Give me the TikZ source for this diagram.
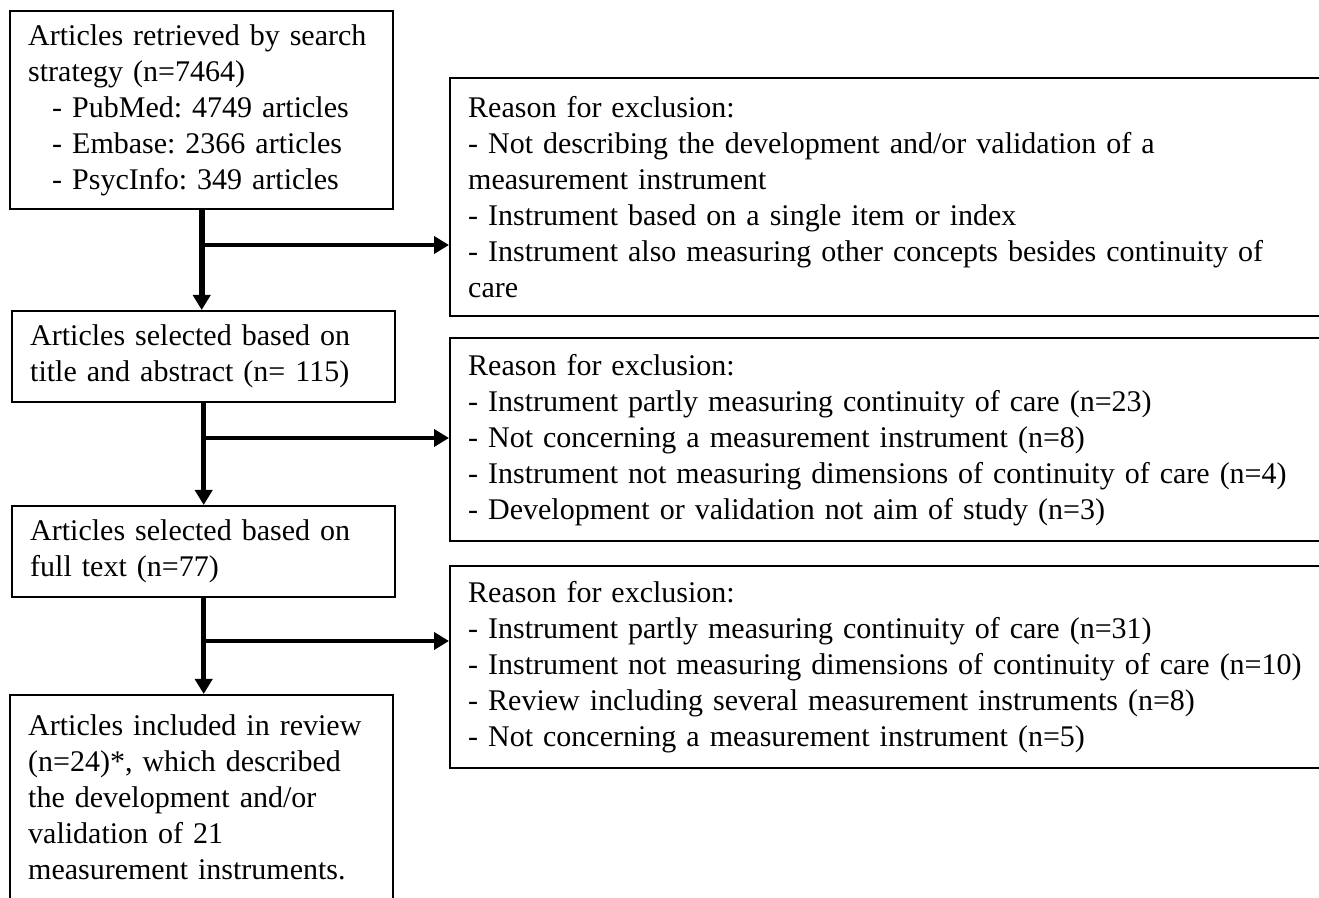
\documentclass[tikz,border=0pt]{standalone}
\usepackage{fontspec}
\setmainfont{Liberation Serif}
\usetikzlibrary{arrows.meta}
\frenchspacing

\tikzset{
  stagebox/.style={draw, line width=1.2pt, anchor=north west, align=left,
    inner xsep=9pt, inner ysep=0pt, text width=173.5pt,
    font=\fontsize{15}{18}\selectfont},
  reasonbox/.style={stagebox, inner xsep=9pt, text width=445pt},
  flow/.style={line width=2.5pt, -{Triangle[length=7.5pt,width=8.5pt]}},
  branch/.style={line width=2pt, -{Triangle[length=7.5pt,width=8.5pt]}}
}

\begin{document}
\begin{tikzpicture}[x=0.5pt,y=0.5pt,yscale=-1,xscale=1]
\path[use as bounding box, fill=white] (0,0) rectangle (1319,898);
\clip (0,0) rectangle (1319,898);

%Shape: Rectangle, left column
\node (search) [stagebox, minimum height=99pt] at (9,10)
  {Articles retrieved by search\\
   strategy (n=7464)\\
   \hspace*{12pt}- PubMed: 4749 articles\\
   \hspace*{12pt}- Embase: 2366 articles\\
   \hspace*{12pt}- PsycInfo: 349 articles};
\node (title) [stagebox, minimum height=45.5pt] at (11,310)
  {Articles selected based on\\
   title and abstract (n= 115)};
\node (fulltext) [stagebox, minimum height=45.5pt] at (11,505)
  {Articles selected based on\\
   full text (n=77)};
\node (review) [stagebox, minimum height=102.5pt] at (9,694)
  {Articles included in review\\
   (n=24)*, which described\\
   the development and/or\\
   validation of 21\\
   measurement instruments.};

%Shape: Rectangle, reasons for exclusion
\node (excl1) [reasonbox, minimum height=119pt] at (449,77)
  {Reason for exclusion:\\
   - Not describing the development and/or validation of a\\
   measurement instrument\\
   - Instrument based on a single item or index\\
   - Instrument also measuring other concepts besides continuity of\\
   care};
\node (excl2) [reasonbox, minimum height=101.5pt] at (449,337)
  {Reason for exclusion:\\
   - Instrument partly measuring continuity of care (n=23)\\
   - Not concerning a measurement instrument (n=8)\\
   - Instrument not measuring dimensions of continuity of care (n=4)\\
   - Development or validation not aim of study (n=3)};
\node (excl3) [reasonbox, minimum height=101pt] at (449,565)
  {Reason for exclusion:\\
   - Instrument partly measuring continuity of care (n=31)\\
   - Instrument not measuring dimensions of continuity of care (n=10)\\
   - Review including several measurement instruments (n=8)\\
   - Not concerning a measurement instrument (n=5)};

%Straight Lines
\coordinate (fork1) at (search.south |- 0,245);
\coordinate (fork2) at (title.south |- 0,438);
\coordinate (fork3) at (fulltext.south |- 0,641);
\draw [flow, line width=3pt] (search.south) -- (search.south |- title.north);
\draw [flow] (title.south) -- (title.south |- fulltext.north);
\draw [flow] (fulltext.south) -- (fulltext.south |- review.north);
\draw [branch] (fork1) -- (fork1 -| excl1.west);
\draw [branch] (fork2) -- (fork2 -| excl2.west);
\draw [branch] (fork3) -- (fork3 -| excl3.west);

\end{tikzpicture}
\end{document}
